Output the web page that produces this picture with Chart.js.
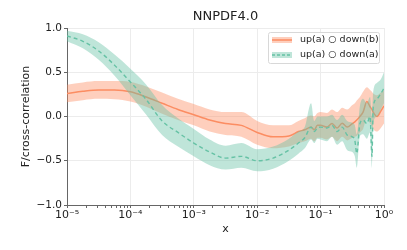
<!DOCTYPE html>
<html>
<head>
<meta charset="utf-8">
<script src="https://cdn.jsdelivr.net/npm/chart.js@4.4.0/dist/chart.umd.min.js"></script>
<style>
  body { margin: 0; background: #fff; }
</style>
</head>
<body>
<canvas id="myChart" width="407" height="250"></canvas>
<script>
// log10(x) positions
const logX = [-5, -4.75, -4.5, -4.25, -4, -3.75, -3.5, -3.25, -3, -2.75, -2.5, -2.25, -2, -1.75, -1.5,
  -1.35, -1.25, -1.15, -1.1, -1.05, -1, -0.9, -0.82, -0.74, -0.66, -0.58, -0.5, -0.46, -0.43, -0.38,
  -0.33, -0.27, -0.22, -0.19, -0.17, -0.11, -0.05, 0];

// up(a) o down(b)
const redMid = [0.26, 0.285, 0.30, 0.30, 0.28, 0.22, 0.15, 0.08, 0.02, -0.04, -0.08, -0.10, -0.18, -0.23, -0.22,
  -0.17, -0.15, -0.12, -0.15, -0.10, -0.10, -0.12, -0.08, -0.13, -0.075, -0.12, -0.08, -0.06, -0.04, 0.0,
  0.05, 0.17, 0.11, 0.08, 0.05, 0.0, 0.06, 0.12];
const redHi = [0.36, 0.385, 0.40, 0.40, 0.39, 0.34, 0.27, 0.20, 0.14, 0.08, 0.05, 0.05, -0.05, -0.10, -0.10,
  -0.05, -0.02, 0.01, 0.0, 0.04, 0.05, 0.04, 0.08, 0.05, 0.10, 0.08, 0.13, 0.15, 0.18, 0.22,
  0.28, 0.33, 0.30, 0.28, 0.26, 0.24, 0.27, 0.30];
const redLo = [0.16, 0.185, 0.20, 0.195, 0.17, 0.11, 0.03, -0.04, -0.10, -0.17, -0.21, -0.23, -0.32, -0.36, -0.34,
  -0.30, -0.28, -0.25, -0.28, -0.24, -0.24, -0.26, -0.23, -0.28, -0.23, -0.27, -0.24, -0.23, -0.22, -0.18,
  -0.14, -0.02, -0.08, -0.11, -0.14, -0.17, -0.13, -0.08];

// up(a) o down(a)
const greenMid = [0.91, 0.85, 0.74, 0.58, 0.39, 0.19, -0.05, -0.18, -0.30, -0.40, -0.47, -0.45, -0.50, -0.47, -0.38,
  -0.30, -0.24, -0.12, -0.17, -0.13, -0.12, -0.13, -0.10, -0.17, -0.12, -0.21, -0.23, -0.27, -0.42, -0.08,
  -0.04, -0.08, 0.0, -0.45, 0.11, 0.20, 0.26, 0.32];
const greenHi = [0.97, 0.93, 0.84, 0.70, 0.54, 0.36, 0.13, -0.02, -0.14, -0.26, -0.33, -0.30, -0.37, -0.34, -0.25,
  -0.17, -0.12, 0.15, -0.05, 0.0, 0.0, 0.0, 0.02, -0.04, 0.02, -0.05, -0.07, -0.10, -0.20, 0.12,
  0.20, 0.15, 0.22, 0.0, 0.28, 0.38, 0.42, 0.50];
const greenLo = [0.85, 0.77, 0.64, 0.46, 0.24, 0.02, -0.21, -0.34, -0.45, -0.55, -0.60, -0.58, -0.62, -0.59, -0.50,
  -0.42, -0.36, -0.26, -0.30, -0.25, -0.26, -0.28, -0.23, -0.32, -0.28, -0.38, -0.40, -0.45, -0.58, -0.22,
  -0.20, -0.25, -0.18, -0.58, -0.08, 0.0, 0.08, 0.15];

const majorExp = [-5, -4, -3, -2, -1, 0];
const yTicks = [1.0, 0.5, 0.0, -0.5, -1.0];
const legendLabels = ['up(a) \u25CB down(b)', 'up(a) \u25CB down(a)'];

const RED = '#fc8d62';
const GREEN = '#66c2a5';
const RED_BAND = 'rgba(252, 141, 98, 0.42)';
const GREEN_BAND = 'rgba(102, 194, 165, 0.42)';
const FONT = '"DejaVu Sans", sans-serif';

function pts(ys) {
  return logX.map((x, i) => ({ x: x, y: ys[i] }));
}

function sup(n) {
  const map = { '-': '\u207B', '0': '\u2070', '1': '\u00B9', '2': '\u00B2', '3': '\u00B3', '4': '\u2074', '5': '\u2075' };
  return String(n).split('').map(c => map[c]).join('');
}

const bandStyle = { borderWidth: 0, borderColor: 'transparent', pointRadius: 0, cubicInterpolationMode: 'monotone' };

const decorations = {
  id: 'decorations',
  afterDraw(chart) {
    const ctx = chart.ctx;
    const a = chart.chartArea;
    ctx.save();
    ctx.fillStyle = '#222';
    ctx.textAlign = 'center';
    ctx.textBaseline = 'middle';
    ctx.font = '13px ' + FONT;
    ctx.fillText('NNPDF4.0', (a.left + a.right) / 2, 17);
    ctx.font = '11px ' + FONT;
    ctx.fillText('x', (a.left + a.right) / 2, 229);
    ctx.save();
    ctx.translate(26, (a.top + a.bottom) / 2);
    ctx.rotate(-Math.PI / 2);
    ctx.fillText('F/cross-correlation', 0, 0);
    ctx.restore();

    // legend
    const bx = 268, by = 32, bw = 111, bh = 31;
    ctx.fillStyle = 'rgba(255,255,255,0.85)';
    ctx.strokeStyle = '#d8d8d8';
    ctx.lineWidth = 1;
    ctx.beginPath();
    ctx.roundRect(bx + 0.5, by + 0.5, bw, bh, 2);
    ctx.fill();
    ctx.stroke();
    const rows = [
      { label: legendLabels[0], line: RED, band: RED_BAND, dash: [] },
      { label: legendLabels[1], line: GREEN, band: GREEN_BAND, dash: [3, 2] }
    ];
    rows.forEach((r, i) => {
      const y = by + 8 + i * 15;
      ctx.fillStyle = r.band;
      ctx.fillRect(bx + 4, y - 3, 20, 6);
      ctx.strokeStyle = r.line;
      ctx.lineWidth = 1.5;
      ctx.setLineDash(r.dash);
      ctx.beginPath();
      ctx.moveTo(bx + 4, y);
      ctx.lineTo(bx + 24, y);
      ctx.stroke();
      ctx.setLineDash([]);
      ctx.fillStyle = '#222';
      ctx.textAlign = 'left';
      ctx.font = '9.5px ' + FONT;
      ctx.fillText(r.label, bx + 32, y);
    });
    ctx.restore();
  }
};

const ctx = document.getElementById('myChart');
new Chart(ctx, {
  type: 'line',
  data: {
    datasets: [
      { data: pts(greenMid), borderColor: GREEN, borderWidth: 1.4, borderDash: [4, 3], pointRadius: 0, fill: false, cubicInterpolationMode: 'monotone' },
      { data: pts(greenHi), ...bandStyle, backgroundColor: GREEN_BAND, fill: '+1' },
      { data: pts(greenLo), ...bandStyle, fill: false },
      { data: pts(redMid), borderColor: RED, borderWidth: 1.5, pointRadius: 0, fill: false, cubicInterpolationMode: 'monotone' },
      { data: pts(redHi), ...bandStyle, backgroundColor: RED_BAND, fill: '+1' },
      { data: pts(redLo), ...bandStyle, fill: false }
    ]
  },
  options: {
    responsive: false,
    animation: false,
    devicePixelRatio: 1,
    layout: { padding: { top: 28, right: 23, left: 0, bottom: 0 } },
    plugins: {
      legend: { display: false },
      title: { display: false },
      tooltip: { enabled: false }
    },
    scales: {
      x: {
        type: 'linear',
        min: -5,
        max: 0,
        afterBuildTicks: (scale) => {
          const t = [];
          for (let e = -5; e < 0; e++) {
            for (let k = 1; k < 10; k++) t.push({ value: e + Math.log10(k) });
          }
          t.push({ value: 0 });
          scale.ticks = t;
        },
        afterFit: (scale) => { scale.height = 45; },
        ticks: {
          autoSkip: false,
          maxRotation: 0,
          padding: 1,
          color: '#222',
          font: { family: FONT, size: 11 },
          callback: (v) => majorExp.includes(Math.round(v * 1000) / 1000) ? '10' + sup(Math.round(v)) : ''
        },
        grid: {
          color: (c) => (c.tick && majorExp.includes(Math.round(c.tick.value * 1000) / 1000)) ? '#ececec' : 'rgba(0,0,0,0)',
          tickColor: '#666',
          tickLength: 3
        },
        border: { color: '#666', width: 1 }
      },
      y: {
        min: -1,
        max: 1,
        afterBuildTicks: (scale) => { scale.ticks = yTicks.map(v => ({ value: v })); },
        afterFit: (scale) => { scale.width = 67; },
        ticks: {
          padding: 2,
          color: '#222',
          font: { family: FONT, size: 10.5 },
          callback: (v) => v.toFixed(1).replace('-', '\u2212')
        },
        grid: { color: '#ececec', tickColor: '#666', tickLength: 3 },
        border: { color: '#666', width: 1 }
      }
    }
  },
  plugins: [decorations]
});
</script>
</body>
</html>
